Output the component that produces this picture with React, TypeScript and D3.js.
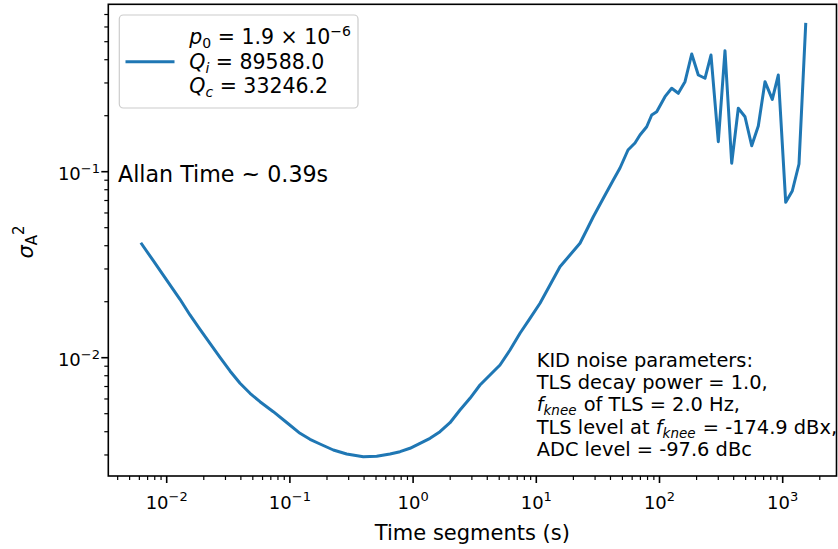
import React from "react";
import * as d3 from "d3";

// Time segments (s) and Allan variance values
const timeSegments = [
  0.006266, 0.007781, 0.01, 0.01282, 0.01545, 0.01864, 0.02246, 0.02708, 0.03264, 0.03936,
  0.04745, 0.05718, 0.07334, 0.09419, 0.1208, 0.1456, 0.1755, 0.2251, 0.2891,
  0.3942, 0.5064, 0.6494, 0.783, 0.9436, 1.138, 1.372, 1.653, 1.993, 2.403,
  2.896, 3.491, 4.209, 5.075, 6.116, 7.374, 8.89, 10.72, 12.92, 15.57,
  18.77, 22.63, 25.65, 29.02, 34.99, 42.17, 47.8, 55.5, 63.25, 69.45,
  78.73, 86.46, 94.91, 110.8, 125.6, 142.1, 161.1, 182.6, 206.5, 234.0,
  261.8, 300.2, 340.1, 385.5, 436.1, 494.3, 560.3, 633.8, 718.3, 823.4,
  920.9, 1058, 1196, 1356, 1537,
];
const allanVariance = [
  0.04087, 0.03323, 0.02616, 0.02061, 0.01697, 0.01421, 0.01195, 0.01005, 0.008485, 0.007286,
  0.006436, 0.005799, 0.005125, 0.004482, 0.003922, 0.003641, 0.003436, 0.00319, 0.003037,
  0.002936, 0.002951, 0.003037, 0.003124, 0.003258, 0.003465, 0.003686, 0.004002, 0.004471, 0.005234,
  0.006048, 0.007133, 0.00807, 0.009137, 0.011, 0.01353, 0.01628, 0.01962, 0.02459, 0.03085,
  0.03566, 0.04122, 0.04861, 0.05728, 0.07194, 0.09024, 0.1047, 0.1308, 0.1427, 0.1575,
  0.1745, 0.2017, 0.2102, 0.2531, 0.2808, 0.2639, 0.3048, 0.4293, 0.3311, 0.3179,
  0.424, 0.145, 0.4471, 0.111, 0.2193, 0.1975, 0.1379, 0.1761, 0.3048, 0.2449,
  0.3311, 0.06847, 0.07875, 0.11, 0.6201,
];

const xMajorTicks = [0.01, 0.1, 1, 10, 100, 1000];
const xTickExponents = ["\u22122", "\u22121", "0", "1", "2", "3"];
const yMajorTicks = [0.01, 0.1];
const yTickExponents = ["\u22122", "\u22121"];
const xLabel = "Time segments (s)";
const allanText = "Allan Time ~ 0.39s";
const legendValues = ["1.9", "89588.0", "33246.2"];
const kidTitle = "KID noise parameters:";
const kidDecay = "TLS decay power = 1.0,";
const kidKnee = " of TLS = 2.0 Hz,";
const kidLevelPre = "TLS level at ";
const kidLevelPost = " = -174.9 dBx,";
const kidAdc = "ADC level = -97.6 dBc";

const FONT = "DejaVu Sans";
const BLUE = "#1f77b4";

export default function App() {
  const W = 838;
  const H = 549;
  const left = 108.3, right = 836.5, top = 4.3, bottom = 476;

  const x = d3.scaleLog().domain([10 ** -2.474, 10 ** 3.4367]).range([left, right]);
  const y = d3.scaleLog().domain([10 ** -2.636, 10 ** -0.1]).range([bottom, top]);

  const pts = timeSegments.map((t, i) => [t, allanVariance[i]] as [number, number]);
  const path = d3.line<[number, number]>().x((d) => x(d[0])).y((d) => y(d[1]))(pts) || "";

  const xd = x.domain();
  const yd = y.domain();
  const xMinor: number[] = [];
  const yMinor: number[] = [];
  for (let k = -4; k <= 4; k++) {
    for (let m = 2; m <= 9; m++) {
      const v = m * 10 ** k;
      if (v >= xd[0] && v <= xd[1]) xMinor.push(v);
      if (v >= yd[0] && v <= yd[1]) yMinor.push(v);
    }
  }

  const tickFs = 18;
  const supFs = 13;
  const kidFs = 19.4;
  const kidX = 536.7;
  const kidY0 = 366.7;
  const kidDy = 22.3;
  const legFs = 20.5;
  const subFs = 14;

  return (
    <svg
      width={W}
      height={H}
      style={{ position: "absolute", left: 0, top: 0, background: "#fff" }}
      fontFamily={FONT}
    >
      <rect x={0} y={0} width={W} height={H} fill="#fff" />
      {/* data line */}
      <path d={path} fill="none" stroke={BLUE} strokeWidth={3} strokeLinejoin="round" strokeLinecap="square" />

      {/* spines */}
      <rect x={left} y={top} width={right - left} height={bottom - top} fill="none" stroke="#000" strokeWidth={1.6} />

      {/* x ticks */}
      {xMajorTicks.map((v, i) => (
        <g key={"xm" + i}>
          <line x1={x(v)} x2={x(v)} y1={bottom} y2={bottom + 7} stroke="#000" strokeWidth={1.6} />
          <text x={x(v)} y={508.5} fontSize={tickFs} textAnchor="middle" fill="#000">
            10<tspan dy={-7.5} fontSize={supFs}>{xTickExponents[i]}</tspan>
          </text>
        </g>
      ))}
      {xMinor.map((v, i) => (
        <line key={"xn" + i} x1={x(v)} x2={x(v)} y1={bottom} y2={bottom + 4} stroke="#000" strokeWidth={1.2} />
      ))}

      {/* y ticks */}
      {yMajorTicks.map((v, i) => (
        <g key={"ym" + i}>
          <line x1={left - 7} x2={left} y1={y(v)} y2={y(v)} stroke="#000" strokeWidth={1.6} />
          <text x={100} y={y(v) + 8.3} fontSize={tickFs} textAnchor="end" fill="#000">
            10<tspan dy={-7.5} fontSize={supFs}>{yTickExponents[i]}</tspan>
          </text>
        </g>
      ))}
      {yMinor.map((v, i) => (
        <line key={"yn" + i} x1={left - 4} x2={left} y1={y(v)} y2={y(v)} stroke="#000" strokeWidth={1.2} />
      ))}

      {/* axis labels */}
      <text x={(left + right) / 2} y={540} fontSize={21} textAnchor="middle" fill="#000">
        {xLabel}
      </text>
      <text transform="translate(33,242) rotate(-90)" fontSize={21} textAnchor="middle" fill="#000">
        <tspan fontStyle="italic">σ</tspan>
        <tspan fontSize={15} dy={4}>A</tspan>
        <tspan fontSize={15} dy={-13}>2</tspan>
      </text>

      {/* Allan time text */}
      <text x={118} y={181.5} fontSize={22.2} fill="#000">
        {allanText}
      </text>

      {/* legend */}
      <rect x={119.3} y={15} width={238.7} height={93} rx={4} ry={4} fill="#fff" fillOpacity={0.8} stroke="#cccccc" strokeWidth={1.2} />
      <line x1={127} x2={173} y1={61.7} y2={61.7} stroke={BLUE} strokeWidth={3} strokeLinecap="square" />
      <text x={189.3} y={44.3} fontSize={legFs} fill="#000">
        <tspan fontStyle="italic">p</tspan>
        <tspan fontSize={subFs} dy={4}>0</tspan>
        <tspan dy={-4}>{" = " + legendValues[0] + " × 10"}</tspan>
        <tspan fontSize={subFs} dy={-8}>{"\u22126"}</tspan>
      </text>
      <text x={189.3} y={68.7} fontSize={legFs} fill="#000">
        <tspan fontStyle="italic">Q</tspan>
        <tspan fontSize={subFs} dy={4} fontStyle="italic">i</tspan>
        <tspan dy={-4}>{" = " + legendValues[1]}</tspan>
      </text>
      <text x={189.3} y={93.3} fontSize={legFs} fill="#000">
        <tspan fontStyle="italic">Q</tspan>
        <tspan fontSize={subFs} dy={4} fontStyle="italic">c</tspan>
        <tspan dy={-4}>{" = " + legendValues[2]}</tspan>
      </text>

      {/* KID parameters text */}
      <text x={kidX} y={kidY0} fontSize={kidFs} fill="#000">{kidTitle}</text>
      <text x={kidX} y={kidY0 + kidDy} fontSize={kidFs} fill="#000">{kidDecay}</text>
      <text x={kidX} y={kidY0 + 2 * kidDy} fontSize={kidFs} fill="#000">
        <tspan fontStyle="italic">f</tspan>
        <tspan fontStyle="italic" fontSize={13.5} dy={4}>knee</tspan>
        <tspan dy={-4} dx={1}>{kidKnee}</tspan>
      </text>
      <text x={kidX} y={kidY0 + 3 * kidDy} fontSize={kidFs} fill="#000">
        {kidLevelPre}
        <tspan fontStyle="italic">f</tspan>
        <tspan fontStyle="italic" fontSize={13.5} dy={4}>knee</tspan>
        <tspan dy={-4} dx={1}>{kidLevelPost}</tspan>
      </text>
      <text x={kidX} y={kidY0 + 4 * kidDy} fontSize={kidFs} fill="#000">{kidAdc}</text>
    </svg>
  );
}
